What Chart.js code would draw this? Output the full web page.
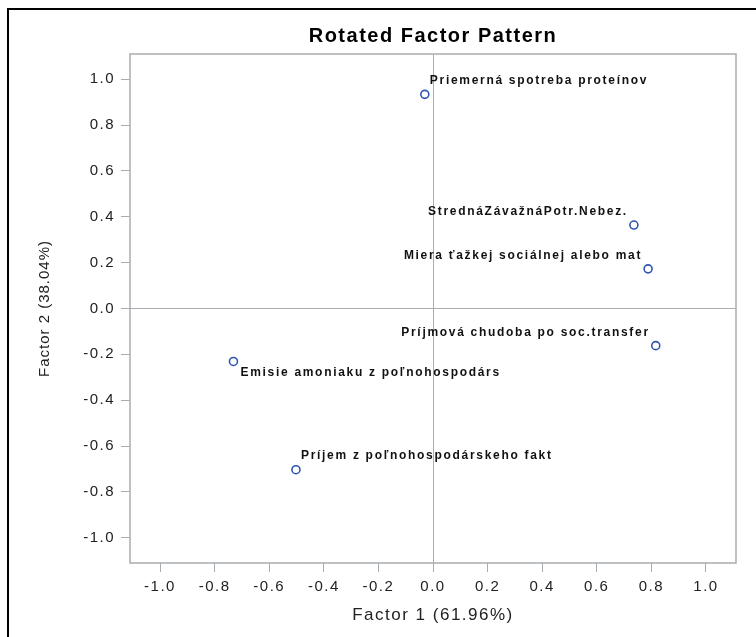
<!DOCTYPE html>
<html>
<head>
<meta charset="utf-8">
<script src="https://cdn.jsdelivr.net/npm/chart.js@4/dist/chart.umd.min.js"></script>
<style>
  html, body { margin: 0; padding: 0; background: #fff; }
  #wrap { position: relative; width: 756px; height: 637px; }
  #frame { position: absolute; left: 7px; top: 8px; width: 760px; height: 640px;
           border-left: 2px solid #000; border-top: 2px solid #000; }
  canvas { position: absolute; left: 0; top: 0; }
</style>
</head>
<body>
<div id="wrap">
  <div id="frame"></div>
  <canvas id="myChart" width="756" height="637"></canvas>
</div>
<script>
// variable names and their loadings on the two rotated factors
var varNames = ["Priemerná spotreba proteínov", "StrednáZávažnáPotr.Nebez.", "Miera ťažkej sociálnej alebo mat",
    "Príjmová chudoba po soc.transfer", "Emisie amoniaku z poľnohospodárs", "Príjem z poľnohospodárskeho fakt"];
var factor1 = [-0.03, 0.736, 0.788, 0.816, -0.731, -0.502];
var factor2 = [0.934, 0.364, 0.173, -0.162, -0.231, -0.703];
// where the label sits relative to its point
var labelSide = ["right-above", "left-above", "left-above", "left-above", "right-below", "right-above"];
var tickValues = [-1.0, -0.8, -0.6, -0.4, -0.2, 0.0, 0.2, 0.4, 0.6, 0.8, 1.0];

var points = [];
for (var i = 0; i < varNames.length; i++) {
    points.push({x: factor1[i], y: factor2[i]});
}

var gray = "#a9adb1";
var fam = "'Liberation Sans', Arial, sans-serif";

var frameAndLabels = {
    id: "frameAndLabels",
    beforeDraw: function (chart) {
        // the SAS output has slightly spaced text
        chart.ctx.letterSpacing = "1.5px";
    },
    afterDatasetsDraw: function (chart) {
        var ctx = chart.ctx;
        var a = chart.chartArea;
        ctx.save();
        ctx.strokeStyle = gray;
        ctx.lineWidth = 1.5;
        ctx.strokeRect(a.left, a.top, a.right - a.left, a.bottom - a.top);

        var xs = chart.scales.x, ys = chart.scales.y;
        ctx.font = "bold 12px " + fam;
        ctx.letterSpacing = "1.7px";
        ctx.fillStyle = "#111";
        ctx.textBaseline = "middle";
        for (let i = 0; i < varNames.length; i++) {
            let px = xs.getPixelForValue(factor1[i]);
            let py = ys.getPixelForValue(factor2[i]);
            let side = labelSide[i];
            if (side === "right-above") {
                ctx.textAlign = "left";
                ctx.fillText(varNames[i], px + 5, py - 14);
            } else if (side === "right-below") {
                ctx.textAlign = "left";
                ctx.fillText(varNames[i], px + 7, py + 11);
            } else {
                ctx.textAlign = "right";
                ctx.fillText(varNames[i], px - 6, py - 13);
            }
        }
        ctx.restore();
    }
};

function zeroLine(c) {
    return c.tick && c.tick.value === 0 ? gray : "rgba(0,0,0,0)";
}

function setTicks(s) {
    s.ticks = tickValues.map(function (v) { return {value: v}; });
}

new Chart("myChart", {
    type: "scatter",
    data: {
        datasets: [{
            data: points,
            pointStyle: "circle",
            pointRadius: 4,
            pointHoverRadius: 4,
            borderWidth: 1.6,
            borderColor: "#2f55b0",
            backgroundColor: "rgba(0,0,0,0)"
        }]
    },
    options: {
        responsive: false,
        animation: false,
        layout: {padding: {left: 0, top: 0, right: 20, bottom: 0}},
        plugins: {
            legend: {display: false},
            tooltip: {enabled: false},
            title: {
                display: true,
                text: "Rotated Factor Pattern",
                fullSize: false,
                color: "#000",
                font: {family: fam, size: 20, weight: "bold"},
                padding: {top: 24.3, bottom: 5.7}
            }
        },
        scales: {
            x: {
                type: "linear",
                min: -1.11,
                max: 1.11,
                afterBuildTicks: setTicks,
                afterFit: function (s) { s.height = 74; },
                ticks: {
                    color: "#222",
                    padding: 6,
                    maxRotation: 0,
                    font: {family: fam, size: 15},
                    callback: function (v) { return v.toFixed(1); }
                },
                grid: {color: zeroLine, tickColor: gray, tickLength: 9, lineWidth: 1},
                border: {display: false},
                title: {
                    display: true,
                    text: "Factor 1 (61.96%)",
                    color: "#222",
                    font: {family: fam, size: 17},
                    padding: {top: 0, bottom: 11.8}
                }
            },
            y: {
                type: "linear",
                min: -1.11,
                max: 1.11,
                afterBuildTicks: setTicks,
                afterFit: function (s) {
                    s.width = 130;
                    if (!s.patchedTitle) {
                        // rotated title is set tighter in the original
                        var orig = s.drawTitle;
                        s.drawTitle = function () {
                            var prev = this.ctx.letterSpacing;
                            this.ctx.letterSpacing = "1px";
                            orig.apply(this, arguments);
                            this.ctx.letterSpacing = prev;
                        };
                        s.patchedTitle = true;
                    }
                },
                ticks: {
                    color: "#222",
                    padding: 6,
                    font: {family: fam, size: 15},
                    callback: function (v) { return v.toFixed(1); }
                },
                grid: {color: zeroLine, tickColor: gray, tickLength: 9, lineWidth: 1},
                border: {display: false},
                title: {
                    display: true,
                    text: "Factor 2 (38.04%)",
                    color: "#222",
                    font: {family: fam, size: 15},
                    padding: {top: 36, bottom: 0}
                }
            }
        }
    },
    plugins: [frameAndLabels]
});
</script>
</body>
</html>
